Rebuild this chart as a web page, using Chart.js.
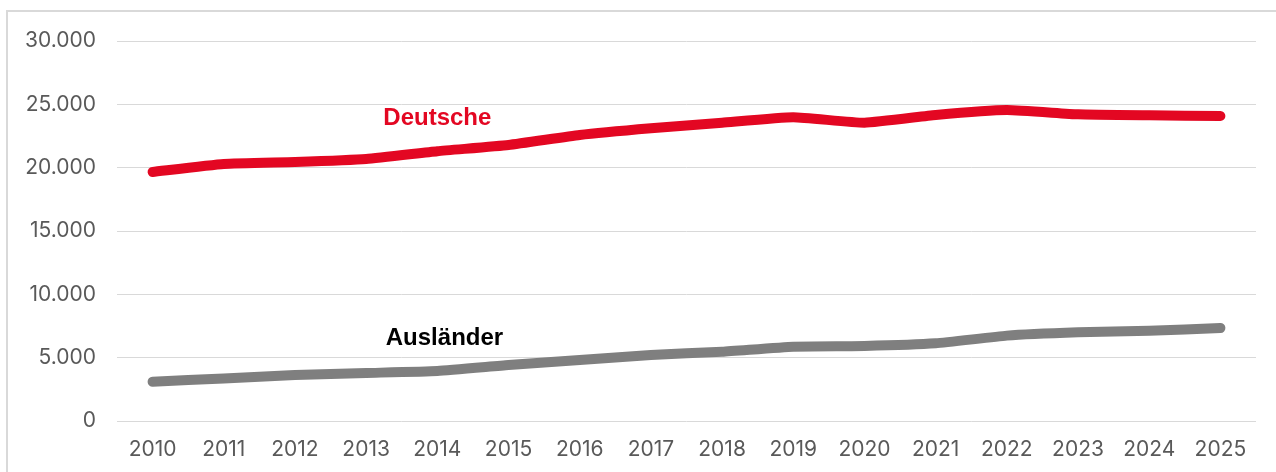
<!DOCTYPE html>
<html>
<head>
<meta charset="utf-8">
<script src="https://cdn.jsdelivr.net/npm/chart.js@4"></script>
<style>
  html, body { margin: 0; padding: 0; background: #ffffff; }
  #wrap { position: relative; width: 1276px; height: 472px; overflow: hidden; }
  #frame { position: absolute; left: 6px; top: 10px; width: 1300px; height: 500px;
           border-left: 2px solid #d9d9d9; border-top: 2px solid #d9d9d9; box-sizing: border-box; pointer-events: none; }
  canvas { position: absolute; left: 0; top: 0; }
</style>
</head>
<body>
<div id="wrap">
  <canvas id="c" width="1276" height="472"></canvas>
  <div id="frame"></div>
</div>
<script>
const years = ["2010","2011","2012","2013","2014","2015","2016","2017","2018","2019","2020","2021","2022","2023","2024","2025"];
const deutsche = [19660, 20290, 20450, 20690, 21300, 21790, 22580, 23110, 23550, 23980, 23550, 24160, 24550, 24210, 24130, 24080];
const auslaender = [3100, 3360, 3630, 3790, 3950, 4420, 4820, 5210, 5470, 5870, 5920, 6130, 6740, 7000, 7130, 7340];
const yTicks = [0, 5000, 10000, 15000, 20000, 25000, 30000];

const seriesNames = ["Deutsche", "Ausländer"];
const seriesColors = ["#E30722", "#7F7F7F"];
const labelColors = ["#E30722", "#000000"];
const labelIndex = [4.0, 4.1];
const labelValue = [23900, 6500];

const fmt = v => v.toLocaleString('de-DE');

const seriesLabels = {
  id: 'seriesLabels',
  afterDatasetsDraw(chart) {
    const ctx = chart.ctx;
    const xs = chart.scales.x, ys = chart.scales.y;
    ctx.save();
    ctx.font = 'bold 24px "Liberation Sans", Arial, sans-serif';
    ctx.textAlign = 'center';
    ctx.textBaseline = 'middle';
    seriesNames.forEach((name, i) => {
      const i0 = Math.floor(labelIndex[i]);
      const f = labelIndex[i] - i0;
      const x = xs.getPixelForValue(i0) * (1 - f) + xs.getPixelForValue(i0 + 1) * f;
      const y = ys.getPixelForValue(labelValue[i]);
      ctx.fillStyle = labelColors[i];
      ctx.fillText(name, x, y);
    });
    ctx.restore();
  }
};

new Chart(document.getElementById('c'), {
  type: 'line',
  data: {
    labels: years,
    datasets: [
      { label: seriesNames[0], data: deutsche, borderColor: seriesColors[0], borderWidth: 10, pointRadius: 0, tension: 0.15, borderCapStyle: 'round', borderJoinStyle: 'round' },
      { label: seriesNames[1], data: auslaender, borderColor: seriesColors[1], borderWidth: 10, pointRadius: 0, tension: 0.15, borderCapStyle: 'round', borderJoinStyle: 'round' }
    ]
  },
  options: {
    responsive: false,
    animation: false,
    devicePixelRatio: 1,
    layout: { padding: { left: 0, right: 20, top: 41, bottom: 0 } },
    plugins: { legend: { display: false }, tooltip: { enabled: false } },
    scales: {
      x: {
        offset: true,
        grid: { display: false, drawTicks: false },
        border: { display: false },
        ticks: { color: '#595959', font: { family: 'Inter', size: 21 }, padding: 16, maxRotation: 0, autoSkip: false },
        afterFit(s) { s.height = 51; }
      },
      y: {
        min: 0, max: 30000,
        afterBuildTicks(s) { s.ticks = yTicks.map(v => ({ value: v })); },
        grid: { color: '#d9d9d9', lineWidth: 1, drawTicks: false },
        border: { display: false },
        ticks: { color: '#595959', font: { family: 'Inter', size: 21 }, padding: 21, callback: v => fmt(v) },
        afterFit(s) { s.width = 117; }
      }
    }
  },
  plugins: [seriesLabels]
});
</script>
</body>
</html>
